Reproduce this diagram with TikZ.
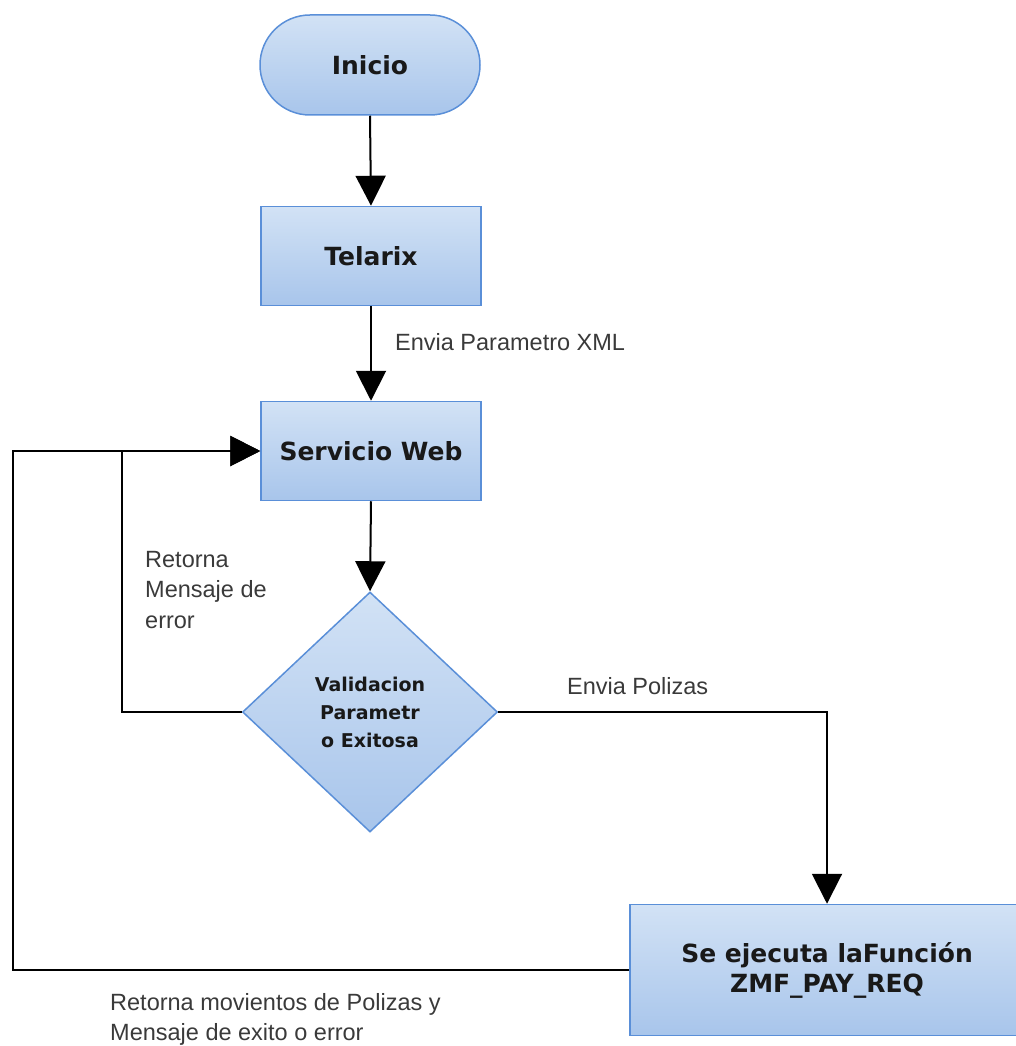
\documentclass[tikz,border=0pt]{standalone}
\usepackage{fontspec}
\setmainfont{Liberation Sans}
\newfontfamily\nodefont{DejaVu Sans}
\usetikzlibrary{shapes.geometric,arrows.meta}
\definecolor{boxtop}{HTML}{D2E2F5}
\definecolor{boxbot}{HTML}{A8C5EB}
\definecolor{boxline}{HTML}{5A8FD8}
\definecolor{labelgray}{HTML}{3A3A3A}
\tikzset{
  x=1pt, y=-1pt,
  flowbox/.style={draw=boxline, line width=1.5pt, top color=boxtop, bottom color=boxbot,
    font=\nodefont\bfseries\fontsize{25}{30}\selectfont, text=black!90, align=center, inner sep=0pt},
  procbox/.style={flowbox, rectangle, minimum width=220pt, minimum height=99pt},
  startbox/.style={flowbox, rectangle, rounded corners=50pt, minimum width=220pt, minimum height=100pt},
  decbox/.style={flowbox, diamond, minimum width=255pt, minimum height=240pt,
    font=\nodefont\bfseries\fontsize{19}{28}\selectfont},
  arr/.style={line width=2pt, -{Triangle[width=30pt,length=30pt]}},
  lbl/.style={font=\fontsize{23.5}{30.5}\selectfont, text=labelgray, align=left, inner sep=0pt}
}
\begin{document}
\begin{tikzpicture}
\useasboundingbox (0,0) rectangle (1015,1046);
\node[startbox] (ini) at (370,65) {Inicio};
\node[procbox] (tel) at (371,256) {Telarix};
\node[procbox] (srv) at (371,451) {Servicio Web};
\node[decbox] (dec) at (370,712) {Validacion\\Parametr\\o Exitosa};
\node[flowbox, rectangle, minimum width=394pt, minimum height=131pt] (fun) at (827,970) {Se ejecuta laFunción\\ZMF\_PAY\_REQ};

\coordinate (lret) at (122,712);
\coordinate (bret) at (13,970);

\draw[arr] (ini.south) -- (tel.north);
\draw[arr] (tel.south) -- (srv.north);
\draw[arr] (srv.south) -- (dec.north);
\draw[arr] (dec.west) -- (lret) |- (srv.west);
\draw[arr] (dec.east) -| (fun.north);
\draw[arr] (fun.west) -- (bret) |- (srv.west);

\node[lbl, anchor=west] (l1) at (395,342) {Envia Parametro XML};
\node[lbl, anchor=north west] (l2) at (145,551) {Retorna\\Mensaje de\\error};
\node[lbl, anchor=west] (l3) at (567,686) {Envia Polizas};
\node[lbl, anchor=north west] (l4) at (110,993) {Retorna movientos de Polizas y\\Mensaje de exito o error};
\end{tikzpicture}
\end{document}
